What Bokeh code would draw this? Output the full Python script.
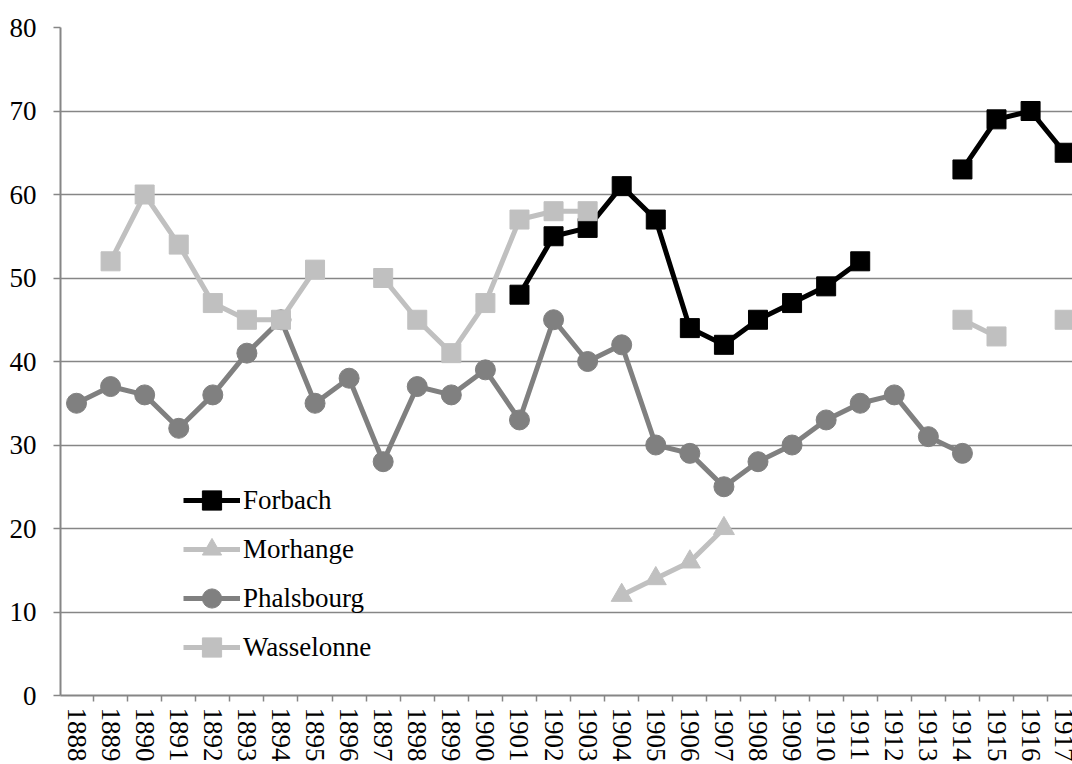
from bokeh.plotting import figure
from bokeh.models import Range1d, FixedTicker, Legend, LegendItem
from bokeh.embed import file_html
from bokeh.resources import INLINE

years = list(range(1888, 1918))
N = None
forbach = [N, N, N, N, N, N, N, N, N, N, N, N, N,
           48, 55, 56, 61, 57, 44, 42, 45, 47, 49, 52, N, N, 63, 69, 70, 65]
morhange = [N, N, N, N, N, N, N, N, N, N, N, N, N, N, N, N,
            12, 14, 16, 20, N, N, N, N, N, N, N, N, N, N]
phalsbourg = [35, 37, 36, 32, 36, 41, 45, 35, 38, 28, 37, 36, 39, 33, 45,
              40, 42, 30, 29, 25, 28, 30, 33, 35, 36, 31, 29, N, N, N]
wasselonne = [N, 52, 60, 54, 47, 45, 45, 51, N, 50, 45, 41, 47, 57, 58, 58,
              N, N, N, N, N, N, N, N, N, N, 45, 43, N, 45]
y_ticks = [0, 10, 20, 30, 40, 50, 60, 70, 80]


def clean(vals):
    return [float("nan") if v is None else v for v in vals]


FONT = "Liberation Serif"
FS = "27px"
GRID = "#868686"

p = figure(width=1072, height=764, output_backend="svg", toolbar_location=None,
           x_range=Range1d(1887.53, 1917.23), y_range=Range1d(0, 80),
           min_border_left=60, min_border_right=0, min_border_top=27,
           min_border_bottom=66)
p.outline_line_color = None
p.background_fill_color = "white"
p.border_fill_color = "white"

# axes
p.xaxis.ticker = FixedTicker(ticks=years, minor_ticks=[y - 0.5 for y in years] + [years[-1] + 0.5])
p.xaxis.major_label_orientation = "vertical"
p.xaxis.major_tick_out = 0
p.xaxis.major_tick_in = 0
p.xaxis.minor_tick_out = 6
p.xaxis.minor_tick_in = 0
p.xaxis.minor_tick_line_color = GRID
p.xaxis.minor_tick_line_width = 1.5
p.xaxis.major_label_standoff = 6
p.xaxis.axis_line_color = GRID
p.xaxis.axis_line_width = 2

p.yaxis.ticker = FixedTicker(ticks=y_ticks)
p.yaxis.major_tick_out = 7
p.yaxis.major_tick_in = 0
p.yaxis.minor_tick_line_color = None
p.yaxis.major_tick_line_color = GRID
p.yaxis.major_tick_line_width = 1.5
p.yaxis.major_label_standoff = 17
p.yaxis.axis_line_color = GRID
p.yaxis.axis_line_width = 2

for ax in (p.xaxis, p.yaxis):
    ax.major_label_text_font = FONT
    ax.major_label_text_font_size = FS
    ax.major_label_text_color = "black"

p.xgrid.grid_line_color = None
p.ygrid.ticker = FixedTicker(ticks=y_ticks)
p.ygrid.grid_line_color = GRID
p.ygrid.grid_line_width = 1.5

series = [
    ("Forbach", forbach, "#000000", "square", 19),
    ("Morhange", morhange, "#C0C0C0", "triangle", 21),
    ("Phalsbourg", phalsbourg, "#808080", "circle", 20),
    ("Wasselonne", wasselonne, "#C0C0C0", "square", 19),
]

items = []
for name, vals, col, marker, size in series:
    yv = clean(vals)
    lr = p.line(years, yv, line_color=col, line_width=5)
    sr = p.scatter(years, yv, marker=marker, size=size, fill_color=col, line_color=col)
    items.append(LegendItem(label=name, renderers=[lr, sr]))

legend = Legend(items=items, location=(123, 24), orientation="vertical",
                label_text_font=FONT, label_text_font_size=FS, label_text_color="black",
                glyph_width=57, glyph_height=48, label_standoff=3, spacing=1,
                padding=0, margin=0,
                background_fill_alpha=0, border_line_alpha=0)
p.add_layout(legend, "center")

open("out.html", "w").write(file_html(p, INLINE))
